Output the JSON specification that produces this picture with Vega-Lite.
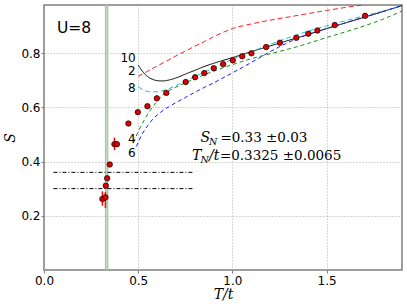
{
  "$schema": "https://vega.github.io/schema/vega-lite/v6.json",
  "width": 358,
  "height": 265,
  "autosize": {"type": "none"},
  "padding": {"left": 44, "top": 5, "right": 5, "bottom": 37},
  "background": "white",
  "config": {
    "font": "DejaVu Sans",
    "view": {"stroke": "#7f7f7f", "strokeWidth": 1.5},
    "axis": {
      "domain": false,
      "grid": true,
      "gridColor": "#9a9a9a",
      "gridDash": [1, 2],
      "gridWidth": 0.8,
      "tickColor": "#7f7f7f",
      "tickSize": 3,
      "labelFlush": false,
      "labelOverlap": false,
      "labelFont": "DejaVu Sans",
      "labelFontSize": 12,
      "labelColor": "#000000",
      "titleFont": "DejaVu Serif",
      "titleFontStyle": "italic",
      "titleFontWeight": "normal",
      "titleFontSize": 14,
      "titleColor": "#000000"
    }
  },
  "datasets": {
    "pts": [
      {"T": 0.310, "S": 0.262, "lo": 0.237, "hi": 0.290},
      {"T": 0.326, "S": 0.268, "lo": 0.228, "hi": 0.288},
      {"T": 0.328, "S": 0.311},
      {"T": 0.335, "S": 0.338},
      {"T": 0.349, "S": 0.389},
      {"T": 0.374, "S": 0.464, "lo": 0.442, "hi": 0.488},
      {"T": 0.387, "S": 0.464},
      {"T": 0.448, "S": 0.540},
      {"T": 0.498, "S": 0.582},
      {"T": 0.549, "S": 0.604},
      {"T": 0.599, "S": 0.633},
      {"T": 0.649, "S": 0.653},
      {"T": 0.752, "S": 0.693},
      {"T": 0.802, "S": 0.711},
      {"T": 0.851, "S": 0.726},
      {"T": 0.901, "S": 0.744},
      {"T": 0.951, "S": 0.759},
      {"T": 1.002, "S": 0.773},
      {"T": 1.052, "S": 0.788},
      {"T": 1.101, "S": 0.799},
      {"T": 1.179, "S": 0.822},
      {"T": 1.252, "S": 0.838},
      {"T": 1.339, "S": 0.856},
      {"T": 1.403, "S": 0.871},
      {"T": 1.451, "S": 0.883},
      {"T": 1.543, "S": 0.903},
      {"T": 1.704, "S": 0.937}
    ],
    "curves": [
      {"n": "10", "T": 0.50, "S": 0.756}, {"n": "10", "T": 0.52, "S": 0.735}, {"n": "10", "T": 0.55, "S": 0.713},
      {"n": "10", "T": 0.58, "S": 0.702}, {"n": "10", "T": 0.60, "S": 0.698}, {"n": "10", "T": 0.63, "S": 0.697},
      {"n": "10", "T": 0.66, "S": 0.700}, {"n": "10", "T": 0.70, "S": 0.708}, {"n": "10", "T": 0.75, "S": 0.722},
      {"n": "10", "T": 0.80, "S": 0.736}, {"n": "10", "T": 0.85, "S": 0.750}, {"n": "10", "T": 0.90, "S": 0.762},
      {"n": "10", "T": 1.00, "S": 0.783}, {"n": "10", "T": 1.10, "S": 0.805}, {"n": "10", "T": 1.20, "S": 0.826},
      {"n": "10", "T": 1.30, "S": 0.847}, {"n": "10", "T": 1.40, "S": 0.868}, {"n": "10", "T": 1.50, "S": 0.890},
      {"n": "10", "T": 1.60, "S": 0.911}, {"n": "10", "T": 1.70, "S": 0.932}, {"n": "10", "T": 1.80, "S": 0.953},
      {"n": "10", "T": 1.90, "S": 0.975},
      {"n": "2", "T": 0.50, "S": 0.714}, {"n": "2", "T": 0.55, "S": 0.733}, {"n": "2", "T": 0.60, "S": 0.752},
      {"n": "2", "T": 0.65, "S": 0.770}, {"n": "2", "T": 0.70, "S": 0.789}, {"n": "2", "T": 0.75, "S": 0.807},
      {"n": "2", "T": 0.80, "S": 0.825}, {"n": "2", "T": 0.85, "S": 0.842}, {"n": "2", "T": 0.90, "S": 0.860},
      {"n": "2", "T": 0.95, "S": 0.876}, {"n": "2", "T": 1.00, "S": 0.890}, {"n": "2", "T": 1.10, "S": 0.907},
      {"n": "2", "T": 1.20, "S": 0.921}, {"n": "2", "T": 1.30, "S": 0.933}, {"n": "2", "T": 1.40, "S": 0.945},
      {"n": "2", "T": 1.50, "S": 0.957}, {"n": "2", "T": 1.60, "S": 0.968}, {"n": "2", "T": 1.70, "S": 0.978},
      {"n": "2", "T": 1.80, "S": 0.988}, {"n": "2", "T": 1.90, "S": 0.997},
      {"n": "8", "T": 0.50, "S": 0.675}, {"n": "8", "T": 0.53, "S": 0.663}, {"n": "8", "T": 0.56, "S": 0.657},
      {"n": "8", "T": 0.60, "S": 0.657}, {"n": "8", "T": 0.65, "S": 0.665}, {"n": "8", "T": 0.70, "S": 0.680},
      {"n": "8", "T": 0.75, "S": 0.696}, {"n": "8", "T": 0.80, "S": 0.713}, {"n": "8", "T": 0.85, "S": 0.729},
      {"n": "8", "T": 0.90, "S": 0.745}, {"n": "8", "T": 1.00, "S": 0.777}, {"n": "8", "T": 1.10, "S": 0.805},
      {"n": "8", "T": 1.20, "S": 0.832}, {"n": "8", "T": 1.30, "S": 0.857}, {"n": "8", "T": 1.40, "S": 0.880},
      {"n": "8", "T": 1.50, "S": 0.900}, {"n": "8", "T": 1.60, "S": 0.919}, {"n": "8", "T": 1.70, "S": 0.937},
      {"n": "8", "T": 1.80, "S": 0.955}, {"n": "8", "T": 1.90, "S": 0.974},
      {"n": "4", "T": 0.475, "S": 0.470}, {"n": "4", "T": 0.50, "S": 0.510}, {"n": "4", "T": 0.53, "S": 0.550},
      {"n": "4", "T": 0.56, "S": 0.585}, {"n": "4", "T": 0.60, "S": 0.622}, {"n": "4", "T": 0.63, "S": 0.645},
      {"n": "4", "T": 0.66, "S": 0.660}, {"n": "4", "T": 0.70, "S": 0.674}, {"n": "4", "T": 0.75, "S": 0.690},
      {"n": "4", "T": 0.80, "S": 0.705}, {"n": "4", "T": 0.90, "S": 0.733}, {"n": "4", "T": 1.00, "S": 0.757},
      {"n": "4", "T": 1.10, "S": 0.779}, {"n": "4", "T": 1.20, "S": 0.797}, {"n": "4", "T": 1.30, "S": 0.815},
      {"n": "4", "T": 1.40, "S": 0.835}, {"n": "4", "T": 1.50, "S": 0.857}, {"n": "4", "T": 1.60, "S": 0.878},
      {"n": "4", "T": 1.70, "S": 0.900}, {"n": "4", "T": 1.80, "S": 0.925}, {"n": "4", "T": 1.90, "S": 0.955},
      {"n": "6", "T": 0.49, "S": 0.455}, {"n": "6", "T": 0.52, "S": 0.500}, {"n": "6", "T": 0.55, "S": 0.532},
      {"n": "6", "T": 0.58, "S": 0.558}, {"n": "6", "T": 0.62, "S": 0.582}, {"n": "6", "T": 0.66, "S": 0.601},
      {"n": "6", "T": 0.70, "S": 0.617}, {"n": "6", "T": 0.75, "S": 0.636}, {"n": "6", "T": 0.80, "S": 0.655},
      {"n": "6", "T": 0.85, "S": 0.673}, {"n": "6", "T": 0.90, "S": 0.690}, {"n": "6", "T": 1.00, "S": 0.727},
      {"n": "6", "T": 1.10, "S": 0.765}, {"n": "6", "T": 1.20, "S": 0.805}, {"n": "6", "T": 1.30, "S": 0.840},
      {"n": "6", "T": 1.40, "S": 0.868}, {"n": "6", "T": 1.50, "S": 0.890}, {"n": "6", "T": 1.60, "S": 0.911},
      {"n": "6", "T": 1.70, "S": 0.932}, {"n": "6", "T": 1.80, "S": 0.953}, {"n": "6", "T": 1.90, "S": 0.975}
    ],
    "labels": [
      {"T": 0.487, "S": 0.783, "txt": "10"},
      {"T": 0.487, "S": 0.732, "txt": "2"},
      {"T": 0.487, "S": 0.671, "txt": "8"},
      {"T": 0.487, "S": 0.482, "txt": "4"},
      {"T": 0.487, "S": 0.431, "txt": "6"}
    ],
    "hlines": [
      {"x1": 0.05, "x2": 0.79, "y": 0.36},
      {"x1": 0.05, "x2": 0.79, "y": 0.30}
    ],
    "band": [{"x1": 0.326, "x2": 0.339}]
  },
  "layer": [
    {
      "data": {"name": "band"},
      "mark": {"type": "rect", "fill": "#c2d9c2", "stroke": "#94bb94", "strokeWidth": 0.8},
      "encoding": {
        "x": {"field": "x1", "type": "quantitative", "scale": {"domain": [0, 1.9], "nice": false, "zero": false},
              "axis": {"values": [0, 0.5, 1, 1.5], "format": ".1f", "title": "T/t", "titlePadding": 1}},
        "x2": {"field": "x2"},
        "y": {"datum": 0, "type": "quantitative", "scale": {"domain": [0, 0.977], "nice": false, "zero": false},
              "axis": {"values": [0.2, 0.4, 0.6, 0.8], "format": ".1f", "title": "S", "titlePadding": 3, "labelPadding": 1}},
        "y2": {"datum": 0.977}
      }
    },
    {
      "data": {"name": "hlines"},
      "mark": {"type": "rule", "color": "#000000", "strokeWidth": 1, "strokeDash": [4, 2, 1, 2]},
      "encoding": {
        "x": {"field": "x1", "type": "quantitative"},
        "x2": {"field": "x2"},
        "y": {"field": "y", "type": "quantitative"}
      }
    },
    {
      "data": {"name": "curves"},
      "mark": {"type": "line", "strokeWidth": 1, "clip": true, "interpolate": "monotone"},
      "encoding": {
        "x": {"field": "T", "type": "quantitative"},
        "y": {"field": "S", "type": "quantitative"},
        "color": {"field": "n", "type": "nominal", "legend": null,
                  "scale": {"domain": ["2", "4", "6", "8", "10"], "range": ["#ff2020", "#1a8c1a", "#1a1aff", "#20c0c0", "#000000"]}},
        "strokeDash": {"field": "n", "type": "nominal", "legend": null,
                  "scale": {"domain": ["2", "4", "6", "8", "10"], "range": [[5, 3], [4, 3], [4, 3], [5, 3], [1, 0]]}},
        "order": {"field": "T", "type": "quantitative"}
      }
    },
    {
      "data": {"name": "pts"},
      "transform": [{"filter": "isValid(datum.lo)"}],
      "mark": {"type": "rule", "color": "#ff0000", "strokeWidth": 1.5},
      "encoding": {
        "x": {"field": "T", "type": "quantitative"},
        "y": {"field": "lo", "type": "quantitative"},
        "y2": {"field": "hi"}
      }
    },
    {
      "data": {"name": "pts"},
      "mark": {"type": "point", "shape": "circle", "filled": true, "fill": "#e00000", "stroke": "#000000", "strokeWidth": 0.7, "size": 30, "opacity": 1},
      "encoding": {
        "x": {"field": "T", "type": "quantitative"},
        "y": {"field": "S", "type": "quantitative"}
      }
    },
    {
      "data": {"name": "labels"},
      "mark": {"type": "text", "align": "right", "baseline": "middle", "fontSize": 12, "font": "DejaVu Sans", "color": "#000000"},
      "encoding": {
        "x": {"field": "T", "type": "quantitative"},
        "y": {"field": "S", "type": "quantitative"},
        "text": {"field": "txt"}
      }
    },
    {
      "data": {"values": [{"T": 0.069, "S": 0.8935, "txt": "U=8"}]},
      "mark": {"type": "text", "align": "left", "baseline": "middle", "fontSize": 15.5, "font": "DejaVu Sans", "color": "#000000"},
      "encoding": {
        "x": {"field": "T", "type": "quantitative"},
        "y": {"field": "S", "type": "quantitative"},
        "text": {"field": "txt"}
      }
    },
    {
      "data": {"values": [{"T": 0.830, "S": 0.471, "txt": "S"}, {"T": 0.785, "S": 0.405, "txt": "T"}]},
      "mark": {"type": "text", "align": "left", "baseline": "alphabetic", "fontSize": 14, "font": "DejaVu Serif", "fontStyle": "italic", "color": "#000000"},
      "encoding": {
        "x": {"field": "T", "type": "quantitative"},
        "y": {"field": "S", "type": "quantitative"},
        "text": {"field": "txt"}
      }
    },
    {
      "data": {"values": [{"T": 0.830, "S": 0.471, "txt": "N"}, {"T": 0.785, "S": 0.405, "txt": "N"}]},
      "mark": {"type": "text", "align": "left", "baseline": "alphabetic", "fontSize": 9.5, "font": "DejaVu Serif", "fontStyle": "italic", "color": "#000000", "dx": 8.5, "dy": 3},
      "encoding": {
        "x": {"field": "T", "type": "quantitative"},
        "y": {"field": "S", "type": "quantitative"},
        "text": {"field": "txt"}
      }
    },
    {
      "data": {"values": [{"T": 0.785, "S": 0.405, "txt": "/t"}]},
      "mark": {"type": "text", "align": "left", "baseline": "alphabetic", "fontSize": 14, "font": "DejaVu Serif", "fontStyle": "italic", "color": "#000000", "dx": 17},
      "encoding": {
        "x": {"field": "T", "type": "quantitative"},
        "y": {"field": "S", "type": "quantitative"},
        "text": {"field": "txt"}
      }
    },
    {
      "data": {"values": [{"T": 0.830, "S": 0.471, "txt": "=0.33 ±0.03"}]},
      "mark": {"type": "text", "align": "left", "baseline": "alphabetic", "fontSize": 13.5, "font": "DejaVu Serif", "color": "#000000", "dx": 20},
      "encoding": {
        "x": {"field": "T", "type": "quantitative"},
        "y": {"field": "S", "type": "quantitative"},
        "text": {"field": "txt"}
      }
    },
    {
      "data": {"values": [{"T": 0.785, "S": 0.405, "txt": "=0.3325 ±0.0065"}]},
      "mark": {"type": "text", "align": "left", "baseline": "alphabetic", "fontSize": 13.5, "font": "DejaVu Serif", "color": "#000000", "dx": 28},
      "encoding": {
        "x": {"field": "T", "type": "quantitative"},
        "y": {"field": "S", "type": "quantitative"},
        "text": {"field": "txt"}
      }
    }
  ]
}
